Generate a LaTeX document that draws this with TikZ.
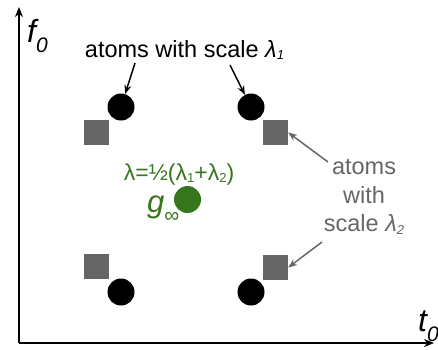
\documentclass[tikz,border=0pt]{standalone}
\usepackage{fontspec}
\setmainfont{Liberation Sans}
\usetikzlibrary{arrows.meta, positioning}
\definecolor{atomgray}{HTML}{666666}
\definecolor{meangreen}{HTML}{38761D}
\tikzstyle{arrow}     = [line width=1.5pt,->,>={Stealth[length=9pt,width=7pt]}]
\tikzstyle{grayarrow} = [line width=1.5pt,->,>={Stealth[length=9pt,width=7pt]},color=atomgray]
\tikzstyle{axis}      = [line width=1.8pt,->,>={Stealth[length=10pt,width=8pt]}]
\tikzstyle{atomone}   = [circle, fill=black, minimum size=27pt, inner sep=0pt]
\tikzstyle{atomtwo}   = [rectangle, fill=atomgray, minimum size=25pt, inner sep=0pt]
\tikzstyle{atomtext}  = [font=\fontsize{23.5}{28.5}\selectfont, inner sep=0pt, align=center]
\tikzstyle{axistext}  = [font=\fontsize{32}{34}\selectfont\itshape, inner sep=0pt, anchor=base west]

\begin{document}
\begin{tikzpicture}[x=1pt,y=-1pt]
\useasboundingbox (0,0) rectangle (438,349);

% axes
\coordinate (O) at (19,343);
\coordinate (Ytop) at (19,7);
\coordinate (Xend) at (434,343);
\draw[axis] (O) -- (Ytop);
\draw[axis] (O) -- (Xend);

\node[axistext] (F0) at (27,42) {f\raisebox{-0.33em}{\fontsize{21}{21}\selectfont 0}};
\node[axistext] (T0) at (418,331) {t\raisebox{-0.33em}{\fontsize{21}{21}\selectfont 0}};

% atoms with scale lambda_1
\node[atomone] (C1) at (121,107) {};
\node[atomone] (C2) at (251,107) {};
\node[atomone] (C3) at (121,292) {};
\node[atomone] (C4) at (251,292) {};

% atoms with scale lambda_2
\node[atomtwo] (S1) at (96.5,132.5) {};
\node[atomtwo] (S2) at (275.5,132.5) {};
\node[atomtwo] (S3) at (96.5,266.5) {};
\node[atomtwo] (S4) at (275.5,267.5) {};

% limit atom
\node[circle, fill=meangreen, minimum size=27pt, inner sep=0pt] (G) at (187.5,199.5) {};
\node[atomtext, text=meangreen, font=\fontsize{23}{26}\selectfont, anchor=base] (Glam) at (179,180)
  {λ=½(λ\raisebox{-0.12em}{\fontsize{13}{13}\selectfont 1}+λ\raisebox{-0.12em}{\fontsize{13}{13}\selectfont 2})};
\node[atomtext, text=meangreen, font=\fontsize{31}{33}\selectfont\itshape, anchor=base west] (Ginf) at (147,212)
  {g\raisebox{-0.33em}{\upshape\fontsize{21}{21}\selectfont ∞}};

% labels
\node[atomtext, anchor=base] (L1) at (184.5,57.5)
  {atoms with scale \textit{λ}\raisebox{-0.1em}{\fontsize{13}{13}\selectfont\itshape 1}};
\node[atomtext, text=atomgray] (L2) at (364,197)
  {atoms\\with\\scale \textit{λ}\raisebox{-0.1em}{\fontsize{13}{13}\selectfont\itshape 2}};

\coordinate (A1) at (135,63);
\coordinate (A2) at (230,65);
\coordinate (A3) at (328,162);
\coordinate (A4) at (322,242);

\draw[arrow] (A1) -- (C1);
\draw[arrow] (A2) -- (C2);
\draw[grayarrow] (A3) -- (S2.east);
\draw[grayarrow] (A4) -- (S4.east);

\end{tikzpicture}
\end{document}
